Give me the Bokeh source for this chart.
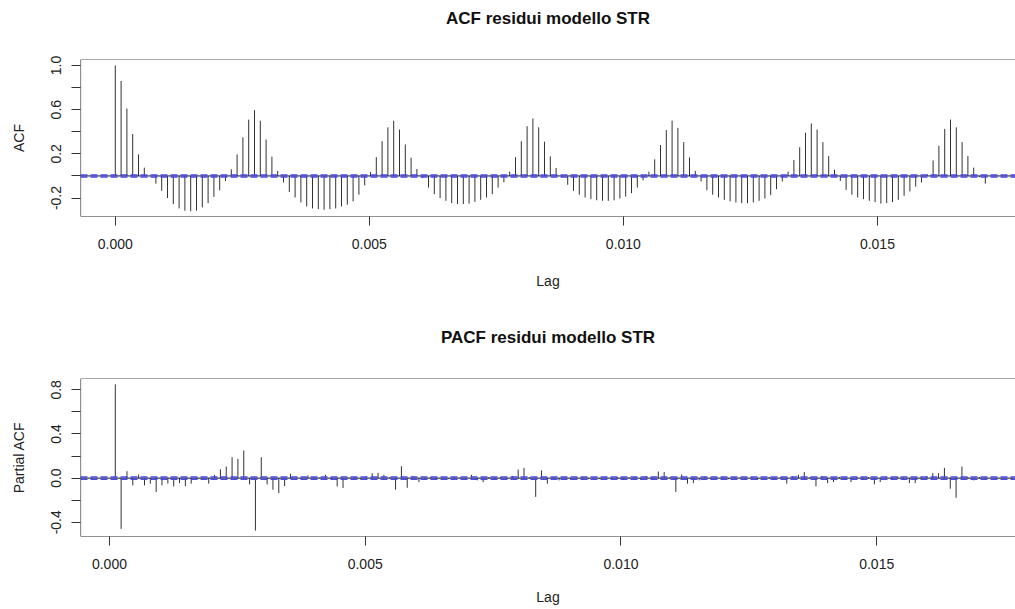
import numpy as np
from bokeh.plotting import figure
from bokeh.models import Span, FixedTicker, PrintfTickFormatter, ColumnDataSource, Range1d, Title
from bokeh.layouts import column
from bokeh.embed import file_html
from bokeh.resources import INLINE

FREQ = 8760  # hourly series, lag expressed in years
acf_vals = [1.0, 0.86, 0.61, 0.38, 0.195, 0.075, 0.0, -0.07, -0.135, -0.2,
            -0.255, -0.294, -0.315, -0.32, -0.315, -0.285, -0.246, -0.19, -0.13, -0.045,
            0.06, 0.195, 0.35, 0.51, 0.595, 0.50, 0.33, 0.174, 0.045, -0.06,
            -0.145, -0.195, -0.24, -0.276, -0.294, -0.30, -0.306, -0.30, -0.294, -0.276,
            -0.26, -0.23, -0.17, -0.085, 0.035, 0.17, 0.315, 0.44, 0.50, 0.42,
            0.285, 0.165, 0.063, -0.02, -0.105, -0.165, -0.2, -0.225, -0.246, -0.255,
            -0.255, -0.25, -0.234, -0.216, -0.195, -0.165, -0.105, -0.057, 0.04, 0.17,
            0.315, 0.45, 0.52, 0.44, 0.31, 0.177, 0.072, -0.015, -0.08, -0.135,
            -0.17, -0.195, -0.21, -0.22, -0.225, -0.225, -0.22, -0.204, -0.186, -0.156,
            -0.105, -0.04, 0.04, 0.15, 0.28, 0.415, 0.50, 0.435, 0.306, 0.168,
            0.045, -0.05, -0.13, -0.17, -0.195, -0.216, -0.23, -0.24, -0.246, -0.246,
            -0.24, -0.225, -0.204, -0.174, -0.12, -0.05, 0.04, 0.144, 0.26, 0.39,
            0.475, 0.42, 0.306, 0.18, 0.057, -0.045, -0.126, -0.17, -0.195, -0.21,
            -0.225, -0.237, -0.25, -0.246, -0.237, -0.216, -0.18, -0.14, -0.096, -0.06,
            0.015, 0.14, 0.273, 0.426, 0.51, 0.44, 0.306, 0.18, 0.075, -0.01,
            -0.07]
pacf_vals = [0.85, -0.46, 0.063, -0.066, 0.033, -0.066, -0.05, -0.126, -0.066, -0.05,
             -0.075, -0.045, -0.072, -0.05, -0.01, 0.01, -0.05, 0.03, 0.08, 0.105,
             0.19, 0.175, 0.25, -0.057, -0.475, 0.19, -0.057, -0.105, -0.135, -0.072,
             0.04, 0.005, -0.005, 0.024, 0.01, 0.005, 0.03, -0.015, -0.075, -0.09,
             0.005, 0.01, -0.01, 0.015, 0.045, 0.048, 0.03, 0.01, -0.105, 0.108,
             -0.087, 0.02, -0.036, -0.01, 0.01, -0.015, 0.005, -0.01, 0.01, 0.005,
             -0.01, 0.03, -0.02, -0.036, 0.01, -0.01, 0.01, -0.015, 0.02, 0.078,
             0.093, 0.01, -0.17, 0.07, -0.05, 0.01, -0.02, 0.01, -0.015, 0.005,
             0.01, -0.01, 0.005, -0.01, 0.01, -0.005, 0.01, -0.01, 0.005, 0.01,
             -0.015, 0.02, 0.01, 0.06, 0.055, 0.01, -0.126, 0.033, -0.05, -0.045,
             -0.02, 0.01, -0.01, 0.005, 0.01, -0.01, 0.01, 0.005, -0.01, 0.01,
             -0.015, 0.005, 0.01, -0.01, 0.01, -0.05, 0.015, 0.03, 0.055, 0.01,
             -0.075, 0.02, -0.045, -0.036, 0.01, -0.01, -0.036, 0.01, -0.01, 0.01,
             -0.057, -0.036, 0.01, -0.01, 0.015, -0.01, -0.045, -0.045, 0.01, 0.02,
             0.045, 0.045, 0.093, -0.096, -0.178, 0.105, 0.01, -0.02, 0.01, -0.015]
ci = 0.0095
x_ticks = [0.0, 0.005, 0.010, 0.015]
acf_yticks = [-0.2, 0.2, 0.6, 1.0]
acf_yminor = [0.0, 0.4, 0.8]
pacf_yticks = [-0.4, 0.0, 0.4, 0.8]
pacf_yminor = [-0.2, 0.2, 0.6]

FONT = "Liberation Sans"
INK = "#222222"


def make_panel(title, ylabel, lags, vals, yr, yt, ym, height, btop, bbot,
               tick_stand, lab_stand):
    # R-style x limits: data range widened by 4 % on each side (right side cut by the picture)
    span = lags[-1] - lags[0]
    lo, hi = lags[0] - 0.04 * span, lags[-1] + 0.04 * span
    xr = (lo, lo + (hi - lo) * 935.0 / 939.6)
    p = figure(width=1015, height=height, output_backend="svg", toolbar_location=None,
               x_range=Range1d(*xr), y_range=Range1d(*yr),
               min_border_left=80, min_border_right=0, min_border_top=btop,
               min_border_bottom=bbot)
    # spacer (closest to the frame) then the real title above it
    p.add_layout(Title(text=" ", text_font=FONT, text_font_size="17px",
                       text_font_style="bold", standoff=4), "above")
    p.add_layout(Title(text=title, text_font=FONT, text_font_size="17px",
                       text_font_style="bold", text_color="#111111", align="center",
                       standoff=13), "above")
    p.outline_line_color = None
    p.grid.visible = False
    src = ColumnDataSource(dict(x=lags, y=vals, z=[0.0] * len(vals)))
    p.segment(x0="x", y0="z", x1="x", y1="y", source=src, line_color="#333333", line_width=1)
    p.add_layout(Span(location=0, dimension="width", line_color="#111111", line_width=1))
    for c in (ci, -ci):
        p.add_layout(Span(location=c, dimension="width", line_color="#4a4ae6",
                          line_width=1.5, line_dash="7 3"))
    # box (right edge lies outside the picture)
    p.add_layout(Span(location=yr[1], dimension="width", line_color="#555555", line_width=1.2))
    p.add_layout(Span(location=yr[0], dimension="width", line_color="#222222", line_width=1.2))
    p.add_layout(Span(location=xr[0], dimension="height", line_color="#222222", line_width=1.2))

    p.xaxis.ticker = FixedTicker(ticks=x_ticks)
    p.xaxis.formatter = PrintfTickFormatter(format="%.3f")
    p.yaxis.ticker = FixedTicker(ticks=yt, minor_ticks=ym)
    p.yaxis.formatter = PrintfTickFormatter(format="%.1f")
    p.yaxis.major_label_orientation = "vertical"
    for ax in (p.xaxis[0], p.yaxis[0]):
        ax.axis_line_color = None
        ax.major_tick_out = 9
        ax.major_tick_in = 0
        ax.minor_tick_out = 9
        ax.minor_tick_in = 0
        ax.major_tick_line_color = "#333333"
        ax.minor_tick_line_color = "#333333"
        ax.major_label_text_font = FONT
        ax.major_label_text_font_size = "14px"
        ax.major_label_text_color = INK
        ax.axis_label_text_font = FONT
        ax.axis_label_text_font_size = "14px"
        ax.axis_label_text_font_style = "normal"
        ax.axis_label_text_color = INK
    p.yaxis.major_label_standoff = 10
    p.xaxis.major_label_standoff = tick_stand
    p.xaxis.minor_tick_line_color = None
    p.xaxis.axis_label = "Lag"
    p.xaxis.axis_label_standoff = lab_stand
    p.yaxis.axis_label = ylabel
    p.yaxis.axis_label_standoff = 22
    return p


acf_lags = [k / FREQ for k in range(len(acf_vals))]
pacf_lags = [(k + 1) / FREQ for k in range(len(pacf_vals))]

p1 = make_panel("ACF residui modello STR", "ACF", acf_lags, acf_vals,
                (-0.367, 1.054), acf_yticks, acf_yminor, 295, 58, 79, 13, 21)
p2 = make_panel("PACF residui modello STR", "Partial ACF", pacf_lags, pacf_vals,
                (-0.529, 0.903), pacf_yticks, pacf_yminor, 314, 83, 73, 13, 17)

layout = column(p1, p2, spacing=0)
open("out.html", "w").write(file_html(layout, INLINE))
